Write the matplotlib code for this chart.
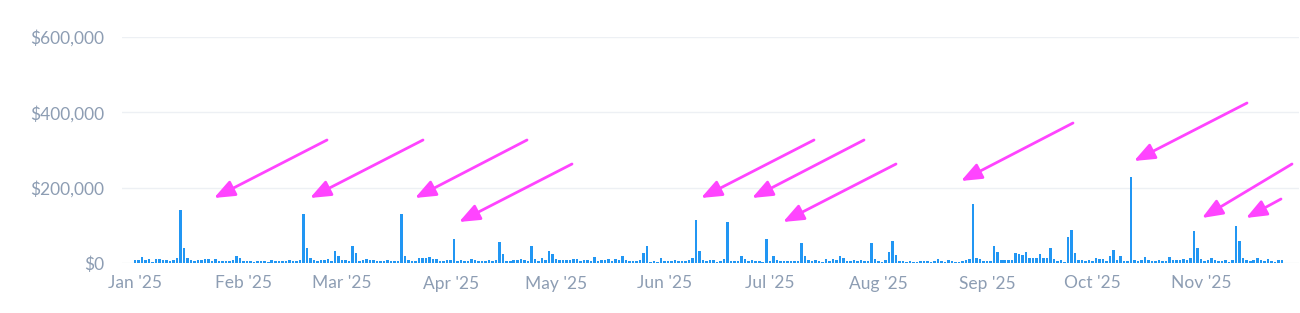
import matplotlib
matplotlib.use("Agg")
import matplotlib.pyplot as plt
import matplotlib.dates as mdates
from matplotlib.ticker import FuncFormatter
import numpy as np
import pandas as pd

# ---------------- data ----------------
start_date = "2025-01-01"
# daily values in thousands of dollars, Jan 1 .. Nov 24 2025
daily_sales_k = [
    7, 7, 16, 7, 11, 3, 11, 11, 7, 7,
    4, 7, 13, 142, 41, 13, 7, 4, 7, 7,
    11, 11, 4, 11, 4, 4, 4, 4, 7, 19,
    13, 4, 4, 4, 2, 4, 4, 4, 2, 7,
    4, 4, 4, 4, 7, 4, 4, 7, 131, 41,
    14, 7, 4, 7, 7, 11, 4, 32, 18, 7,
    7, 4, 46, 27, 4, 7, 11, 7, 7, 4,
    4, 4, 7, 4, 4, 4, 131, 19, 7, 4,
    4, 13, 13, 13, 16, 11, 11, 4, 4, 7,
    7, 65, 4, 7, 4, 4, 11, 7, 4, 4,
    4, 7, 5, 7, 55, 23, 4, 4, 7, 7,
    11, 7, 4, 46, 11, 4, 13, 7, 32, 25,
    11, 7, 7, 7, 7, 11, 11, 4, 7, 7,
    4, 16, 4, 7, 7, 11, 4, 11, 7, 18,
    9, 5, 5, 5, 7, 27, 44, 3, 4, 3,
    14, 5, 5, 5, 7, 5, 5, 5, 9, 14,
    115, 32, 9, 5, 7, 7, 3, 5, 11, 110,
    5, 5, 5, 19, 11, 5, 9, 5, 5, 3,
    65, 5, 18, 9, 5, 5, 5, 5, 5, 5,
    53, 18, 7, 5, 7, 5, 3, 11, 5, 11,
    7, 18, 12, 5, 5, 9, 5, 7, 5, 5,
    53, 11, 5, 3, 9, 28, 58, 21, 5, 5,
    3, 5, 3, 3, 5, 5, 5, 3, 5, 11,
    5, 3, 9, 5, 3, 3, 5, 7, 11, 157,
    14, 11, 5, 5, 5, 44, 30, 7, 7, 7,
    7, 27, 24, 21, 30, 14, 14, 14, 24, 14,
    14, 39, 11, 5, 7, 3, 69, 87, 27, 7,
    7, 5, 7, 5, 14, 11, 11, 5, 18, 35,
    9, 18, 5, 5, 228, 9, 5, 7, 16, 9,
    5, 5, 9, 5, 5, 16, 7, 7, 7, 11,
    9, 12, 85, 41, 11, 5, 7, 12, 9, 5,
    5, 9, 3, 9, 97, 58, 12, 7, 5, 7,
    12, 7, 5, 11, 5, 3, 7, 7,
]
y_ticks = [0, 200000, 400000, 600000]
month_ticks = ["2025-01-01", "2025-02-01", "2025-03-01", "2025-04-01",
               "2025-05-01", "2025-06-01", "2025-07-01", "2025-08-01",
               "2025-09-01", "2025-10-01", "2025-11-01"]

# ---------------- layout / style ----------------
W, H, DPI = 1300, 313, 100
BAR_COLOR = "#2196F3"
TEXT_COLOR = "#8D9DB3"
GRID_COLOR = "#EDF0F4"
ARROW_COLOR = "#FF44FF"
FONT = ["Lato", "DejaVu Sans"]
# annotation arrows in figure pixels (tail x, tail y, tip x, tip y), y measured from top
ARROWS_PX = [
    (327, 140, 214, 198),
    (423, 140, 310, 198),
    (527, 140, 415, 198),
    (572, 164, 459, 222),
    (814, 140, 701, 198),
    (864, 140, 752, 198),
    (896, 164, 783, 222),
    (1073, 123, 961, 181),
    (1247, 103, 1134, 161),
    (1292, 164, 1202, 218),
    (1281, 199, 1246, 218),
]

dates = pd.date_range(start_date, periods=len(daily_sales_k), freq="D")
values = np.array(daily_sales_k) * 1000.0

fig = plt.figure(figsize=(W / DPI, H / DPI), dpi=DPI)
ax = fig.add_axes([122 / W, (H - 263) / H, (1299 - 122) / W, (263 - 37) / H])

ax.bar(dates, values, width=0.72, color=BAR_COLOR, linewidth=0, zorder=3)

start = pd.Timestamp(start_date)
ax.set_xlim(start - pd.Timedelta(days=3.7), start + pd.Timedelta(days=331.9))
ax.set_ylim(0, 600000)

ax.set_yticks(y_ticks)
ax.yaxis.set_major_formatter(FuncFormatter(lambda v, p: f"${v:,.0f}"))
ax.set_xticks(pd.to_datetime(month_ticks))
ax.xaxis.set_major_formatter(mdates.DateFormatter("%b '%y"))

ax.grid(axis="y", color=GRID_COLOR, linewidth=1.0, zorder=0)
ax.grid(axis="x", visible=False)
for s in ax.spines.values():
    s.set_visible(False)
ax.tick_params(axis="both", length=0, colors=TEXT_COLOR, labelsize=12.5)
ax.tick_params(axis="y", pad=13)
ax.tick_params(axis="x", pad=9)
for lab in ax.get_xticklabels() + ax.get_yticklabels():
    lab.set_family(FONT)
    lab.set_color(TEXT_COLOR)

for (tx, ty, hx, hy) in ARROWS_PX:
    ax.annotate("", xy=(hx, H - hy), xycoords="figure pixels",
                xytext=(tx, H - ty), textcoords="figure pixels",
                arrowprops=dict(arrowstyle="-|>,head_length=1.25,head_width=0.5",
                                mutation_scale=10, color=ARROW_COLOR, lw=2.0,
                                shrinkA=0, shrinkB=0),
                annotation_clip=False, zorder=5)

fig.savefig("out.png", dpi=DPI)
